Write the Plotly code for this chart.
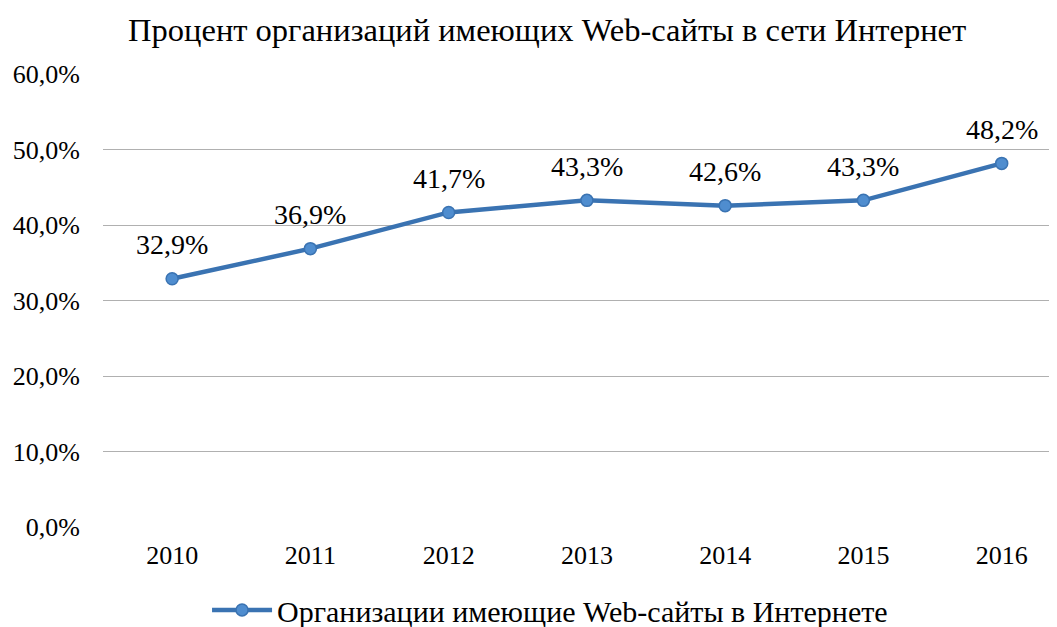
import plotly.graph_objects as go

years = ["2010", "2011", "2012", "2013", "2014", "2015", "2016"]
values = [32.9, 36.9, 41.7, 43.3, 42.6, 43.3, 48.2]
y_ticks = [0, 10, 20, 30, 40, 50, 60]
series_name = "Организации имеющие Web-сайты в Интернете"
title = "Процент организаций имеющих Web-сайты в сети Интернет"

font = "Liberation Serif, Times New Roman, serif"
xs = list(range(len(years)))


def pct(v):
    return f"{v:.1f}%".replace(".", ",")


fig = go.Figure()
fig.add_trace(go.Scatter(
    x=xs, y=values, name=series_name,
    mode="lines+markers",
    line=dict(color="#3a73b2", width=4.5),
    marker=dict(size=12, color="#4f8dcf", line=dict(color="#3a73b2", width=1.5)),
    cliponaxis=False,
))
for xv, yv in zip(xs, values):
    fig.add_annotation(x=xv, y=yv, text=pct(yv),
                       showarrow=False, yshift=34, xanchor="center", yanchor="middle",
                       font=dict(family=font, size=28, color="#000"))

fig.update_layout(
    width=1049, height=619,
    margin=dict(l=95, r=0, t=66, b=100, autoexpand=False),
    paper_bgcolor="white", plot_bgcolor="white",
    font=dict(family=font, size=26, color="#000"),
    title=dict(text=title, x=0.514, xanchor="center", y=0.9645, yanchor="middle",
               font=dict(family=font, size=32.5, color="#000")),
    showlegend=True,
    legend=dict(orientation="h", x=0.4686, xanchor="center", y=-0.183, yanchor="middle",
                font=dict(family=font, size=30, color="#000"), itemwidth=60),
    xaxis=dict(tickmode="array", tickvals=xs, ticktext=years, automargin=False,
               range=[-0.5, 6.4], showgrid=False, zeroline=False, showline=False,
               ticks="", ticklabelstandoff=10, tickfont=dict(size=26)),
    yaxis=dict(range=[0, 60.05], tickmode="array", tickvals=y_ticks,
               ticktext=[pct(v) for v in y_ticks], automargin=False,
               showgrid=True, gridcolor="#b0b0b0", gridwidth=1.2, zeroline=False,
               showline=False, ticks="", ticklabelstandoff=22, tickfont=dict(size=26)),
)

fig.write_html("out.html")
